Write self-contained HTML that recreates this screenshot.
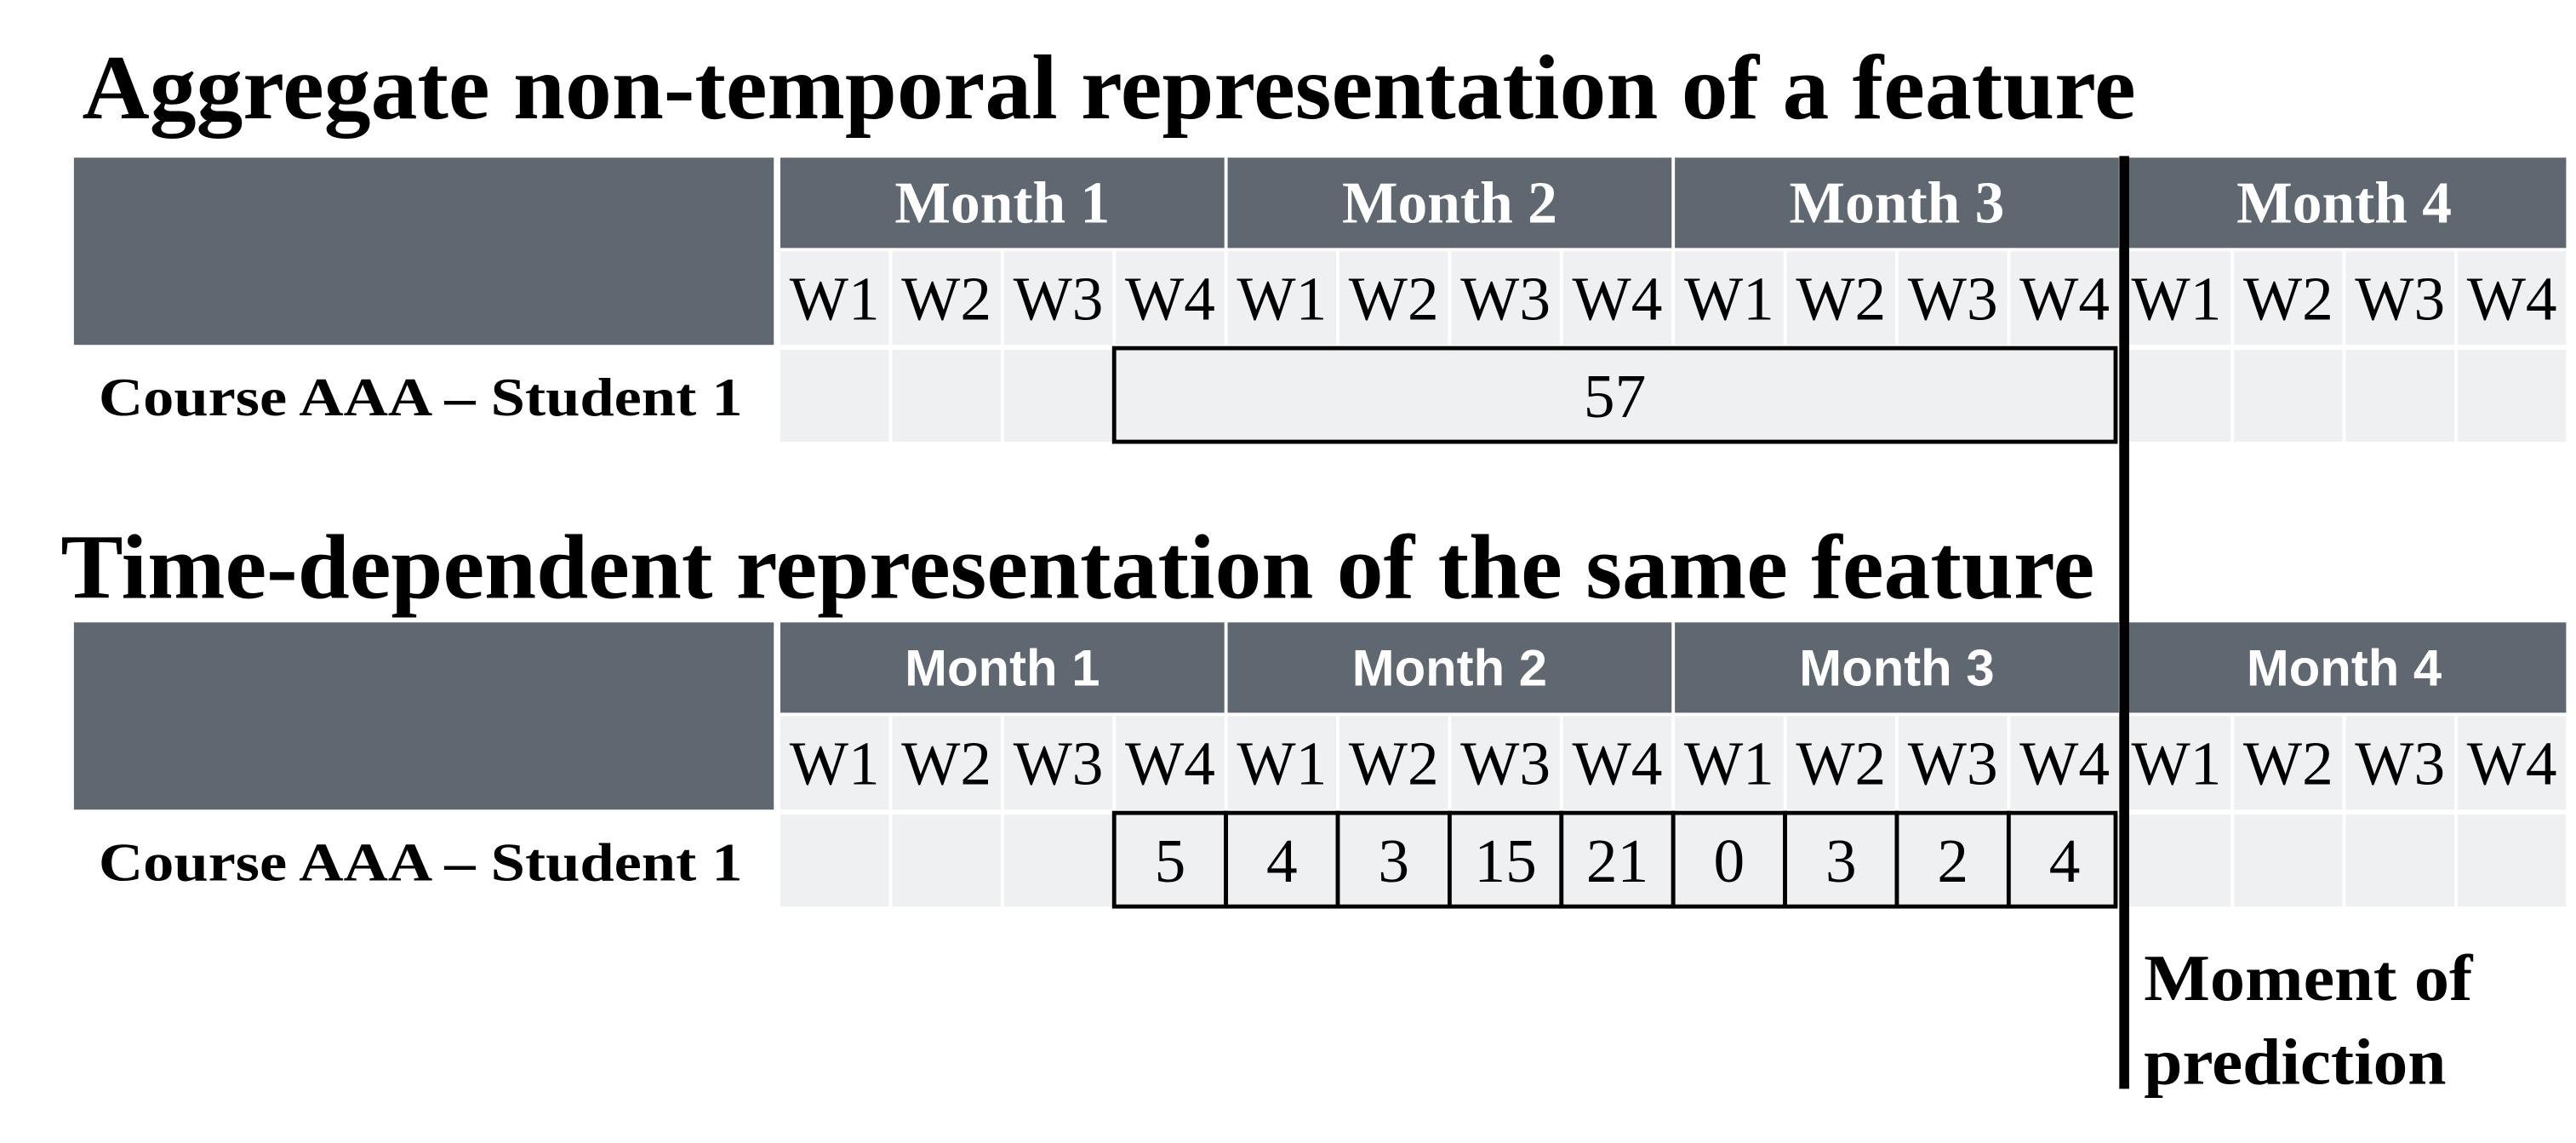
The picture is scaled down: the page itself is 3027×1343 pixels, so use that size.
<!DOCTYPE html>
<html><head><meta charset="utf-8"><style>
html,body{margin:0;padding:0;background:#fff;width:3027px;height:1343px;overflow:hidden}
svg{display:block}
.serif{font-family:"Liberation Serif",serif}
.sans{font-family:"Liberation Sans",sans-serif}
</style></head><body>
<svg id="fig" width="3027" height="1343" viewBox="0 0 1568 696" preserveAspectRatio="none" xmlns="http://www.w3.org/2000/svg">
<text class="serif" x="50" y="72" font-size="56" font-weight="bold" textLength="1250" lengthAdjust="spacingAndGlyphs">Aggregate non-temporal representation of a feature</text>
<text class="serif" x="37" y="364" font-size="56" font-weight="bold" textLength="1238" lengthAdjust="spacingAndGlyphs">Time-dependent representation of the same feature</text>
<g id="t1"></g>
<g id="t2"></g>
<rect x="1290" y="95" width="6" height="568" fill="#000"/>
<text class="serif" x="1305" y="609" font-size="40" font-weight="bold" textLength="200" lengthAdjust="spacingAndGlyphs">Moment of</text>
<text class="serif" x="1305" y="660" font-size="40" font-weight="bold" textLength="184" lengthAdjust="spacingAndGlyphs">prediction</text>
</svg>
<script>
const months = ["Month 1","Month 2","Month 3","Month 4"];
const weeks = ["W1","W2","W3","W4"];
const rowLabel = "Course AAA – Student 1";
const aggregateValue = 57;
const aggregateStart = 3, aggregateEnd = 11;
const weeklyValues = [5,4,3,15,21,0,3,2,4];
const weeklyStart = 3;

const NS="http://www.w3.org/2000/svg";
const x0=474, wW=(1563-474)/16;
function colX(i){return x0+i*wW;}
function el(parent,tag,attrs,text){const e=document.createElementNS(NS,tag);for(const k in attrs)e.setAttribute(k,attrs[k]);if(text!==undefined)e.textContent=text;parent.appendChild(e);return e;}

function buildTable(g,top,monthFont){
  const hY=top,hH=55,wY=top+57,wH=57,dY=top+117,dH=56;
  const blk=el(g,'rect',{x:45,y:hY,width:426,height:wY+wH-hY,fill:'#5f6770'});
  
  
  months.forEach((m,mi)=>{
    const x=colX(mi*4)+1, w=wW*4-2;
    const r=el(g,'rect',{x:x,y:hY,width:w,height:hH,fill:'#5f6770'});
    
    
    const t=el(g,'text',{x:x+w/2,y:hY+hH/2+(monthFont==='sans'?11:12),'text-anchor':'middle',fill:'#fff','font-size':monthFont==='sans'?31:36,'font-weight':'bold','class':monthFont},m);
    
    
    weeks.forEach((wk,wi)=>{
      const i=mi*4+wi, cx=colX(i)+1, cw=wW-2;
      const c=el(g,'rect',{x:cx,y:wY,width:cw,height:wH,fill:'#eff0f2'});
      
      
      const tt=el(g,'text',{x:cx+cw/2,y:wY+wH/2+13,'text-anchor':'middle','font-size':38,'class':'serif'},wk);
      
      
      const d=el(g,'rect',{x:cx,y:dY,width:cw,height:dH,fill:'#eff0f2'});
      
      
    });
  });
  const lab=el(g,'text',{x:60,y:dY+dH/2+12,'font-size':33,'font-weight':'bold','class':'serif',textLength:392,lengthAdjust:'spacingAndGlyphs'},rowLabel);
  
  
  return {dY,dH};
}

const g1=document.getElementById('t1');
const r1=buildTable(g1,96,'serif');
const ax=colX(aggregateStart), aw=colX(aggregateEnd+1)-ax-3;
const ab=el(g1,'rect',{x:ax,y:r1.dY-1,width:aw,height:r1.dH+1,fill:'#eff0f2',stroke:'#000','stroke-width':2.5});


const at=el(g1,'text',{x:ax+aw/2,y:r1.dY+r1.dH/2+13,'text-anchor':'middle','font-size':38,'class':'serif'},String(aggregateValue));



const g2=document.getElementById('t2');
const r2=buildTable(g2,379,'sans');
weeklyValues.forEach((v,k)=>{
  const i=weeklyStart+k, x=colX(i), w=wW;
  const b=el(g2,'rect',{x:x,y:r2.dY-1,width:(k===weeklyValues.length-1?w-3:w),height:r2.dH+1,fill:'#eff0f2',stroke:'#000','stroke-width':2.5});
  
  
  const t=el(g2,'text',{x:x+w/2,y:r2.dY+r2.dH/2+13,'text-anchor':'middle','font-size':38,'class':'serif'},String(v));
  
  
});
</script>
</body></html>
